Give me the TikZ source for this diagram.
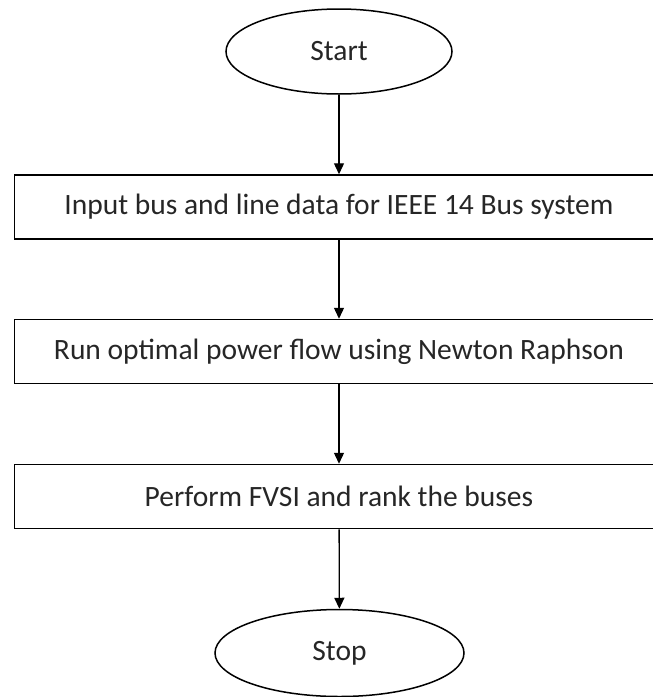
\documentclass[tikz,border=0pt]{standalone}
\usepackage{fontspec}
\setmainfont{Carlito}
\usetikzlibrary{shapes.geometric,arrows.meta}
\begin{document}
\begin{tikzpicture}[x=1pt,y=-1pt,
  term/.style={draw, ellipse, line width=1.5pt, minimum width=226pt, minimum height=85pt, inner sep=0pt},
  proc/.style={draw, rectangle, line width=1.5pt, minimum width=649pt, minimum height=64pt, inner sep=0pt},
  flow/.style={-{Triangle[length=11pt,width=10pt]}, line width=1.3pt},
  font=\fontsize{29.5}{34}\selectfont, text=black!85]
\useasboundingbox (0,0) rectangle (653,697);
\clip (0,0) rectangle (653,697);
\node[term] (start) at (339,51.5) {Start};
\node[proc] (input) at (339,207) {Input bus and line data for IEEE 14 Bus system};
\node[proc] (opf) at (339,351.5) {Run optimal power flow using Newton Raphson};
\node[proc] (fvsi) at (339,496.5) {Perform FVSI and rank the buses};
\node[term, minimum width=249pt, minimum height=87pt] (stop) at (339.5,653) {Stop};
\draw[flow] (start) -- (input);
\draw[flow] (input) -- (opf);
\draw[flow] (opf) -- (fvsi);
\draw[flow] (fvsi) -- (stop);
\end{tikzpicture}
\end{document}
